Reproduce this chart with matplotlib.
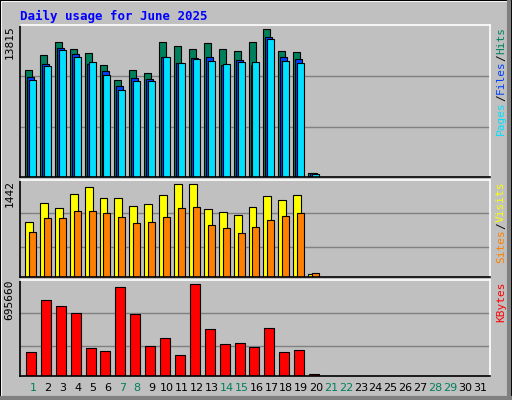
import matplotlib
matplotlib.use("Agg")
import matplotlib.pyplot as plt
from matplotlib.patches import Rectangle
import numpy as np

days = list(range(1, 32))
hits = [9707,11076,12263,11624,11259,10163,8794,9707,9433,12263,11898,11624,12172,11624,11441,12263,13450,11441,11350,396]
files = [9068,10255,11715,11167,10255,9616,8246,8977,8885,10894,10346,10802,10894,10163,10620,10163,12719,10894,10711,396]
pages = [8794,10072,11533,10894,10437,9250,7881,8703,8703,10894,10346,10711,10529,10255,10437,10437,12537,10529,10346,304]
visits = [811,1097,1021,1232,1337,1172,1172,1051,1081,1217,1382,1382,1006,961,916,1036,1202,1142,1217,45]
sites = [676,871,871,976,976,946,886,796,811,886,1021,1036,766,721,661,736,841,901,946,60]
kbytes = [172100,550200,506600,455700,201200,179400,644800,448400,215700,273900,150300,666600,339400,230300,237500,208500,346600,172100,186600,12120]
max_hits, max_visits, max_kb = 13815, 1442, 695660
weekend = {1,7,8,14,15,21,22,28,29}

BG = "#C0C0C0"
fig = plt.figure(figsize=(5.12, 4.0), dpi=100, facecolor=BG)
mono = "DejaVu Sans Mono"

# bevel border
fig.add_artist(Rectangle((0.002, 0.002), 0.996, 0.996, transform=fig.transFigure, fill=False, ec="white", lw=1.5))
fig.add_artist(plt.Line2D([0.004, 0.996], [0.006, 0.006], transform=fig.transFigure, color="#808080", lw=3))
fig.add_artist(plt.Line2D([0.994, 0.994], [0.006, 0.994], transform=fig.transFigure, color="#808080", lw=3))
fig.add_artist(Rectangle((0, 0), 1, 1, transform=fig.transFigure, fill=False, ec="black", lw=1.5))

fig.text(20/512, 1 - 16/400, "Daily usage for June 2025", color="#0000FF", fontsize=9,
         fontweight="bold", family=mono, va="center", ha="left")

def mk(top, bot):
    ax = fig.add_axes([20/512, 1 - bot/400, 470/512, (bot - top)/400])
    ax.set_facecolor(BG)
    ax.set_xlim(0.13, 31.67)
    ax.set_xticks([]); ax.set_yticks([])
    for s in ("left", "bottom"):
        ax.spines[s].set_color("black"); ax.spines[s].set_linewidth(1.2)
    for s in ("top", "right"):
        ax.spines[s].set_color("white"); ax.spines[s].set_linewidth(1.2)
    return ax

n = len(hits)
d = np.arange(1, n + 1)
W = 0.47

ax1 = mk(25, 177)
ax1.set_ylim(0, max_hits)
for f in (0.326, 0.663):
    ax1.axhline(max_hits * f, color="#808080", lw=1, zorder=0)
ax1.bar(d - 0.53, hits, W, align="edge", color="#00805C", ec="black", lw=0.8)
ax1.bar(d - 0.40, files, W, align="edge", color="#0040FF", ec="black", lw=0.8)
ax1.bar(d - 0.27, pages, W, align="edge", color="#00E0FF", ec="black", lw=0.8)

ax2 = mk(180, 277)
ax2.set_ylim(0, max_visits)
for f in (0.3125, 0.656):
    ax2.axhline(max_visits * f, color="#808080", lw=1, zorder=0)
ax2.bar(d - 0.53, visits, 0.53, align="edge", color="#FFFF00", ec="black", lw=0.8)
ax2.bar(d - 0.27, sites, W, align="edge", color="#FF8000", ec="black", lw=0.8)

ax3 = mk(280, 376)
ax3.set_ylim(0, max_kb)
for f in (0.31, 0.655):
    ax3.axhline(max_kb * f, color="#808080", lw=1, zorder=0)
ax3.bar(d - 0.47, kbytes, 0.67, align="edge", color="#FF0000", ec="black", lw=0.8)

for ax, lab in ((ax1, max_hits), (ax2, max_visits), (ax3, max_kb)):
    ax.text(-0.012, 1.0, str(lab), transform=ax.transAxes, rotation=90, ha="right", va="top",
            fontsize=8, family=mono)

def rlabel(ax, parts):
    y = 0.0
    x = 1.015
    tr = ax.transAxes
    # build from bottom up
    from matplotlib.offsetbox import TextArea, VPacker, AnchoredOffsetbox
    fig.canvas.draw()
rend = None

def stack(ax, parts):
    # parts from bottom to top: (text, color)
    fig.canvas.draw()
    r = fig.canvas.get_renderer()
    y_px = ax.get_window_extent().y1 - 2
    x_px = ax.get_window_extent().x1 + 11
    # compute total length
    ts = []
    total = 0
    for t, c in parts:
        tt = fig.text(0, 0, t, color=c, fontsize=8, family=mono, rotation=90, ha="center", va="bottom")
        bb = tt.get_window_extent(r)
        ts.append((tt, bb.height)); total += bb.height
    y = y_px - total
    for tt, h in ts:
        tt.set_position((x_px / fig.bbox.width, y / fig.bbox.height))
        y += h

stack(ax1, [("Pages", "#00E0FF"), ("/", "black"), ("Files", "#0040FF"), ("/", "black"), ("Hits", "#00805C")])
stack(ax2, [("Sites", "#FF8000"), ("/", "black"), ("Visits", "#FFFF00")])
stack(ax3, [("KBytes", "#FF0000")])

for dd in days:
    ax3.text(dd, -0.12, str(dd), transform=ax3.get_xaxis_transform(), ha="center", va="center",
             fontsize=8, family="DejaVu Sans", color="#00805C" if dd in weekend else "black")

fig.savefig("out.png", dpi=100, facecolor=BG)
